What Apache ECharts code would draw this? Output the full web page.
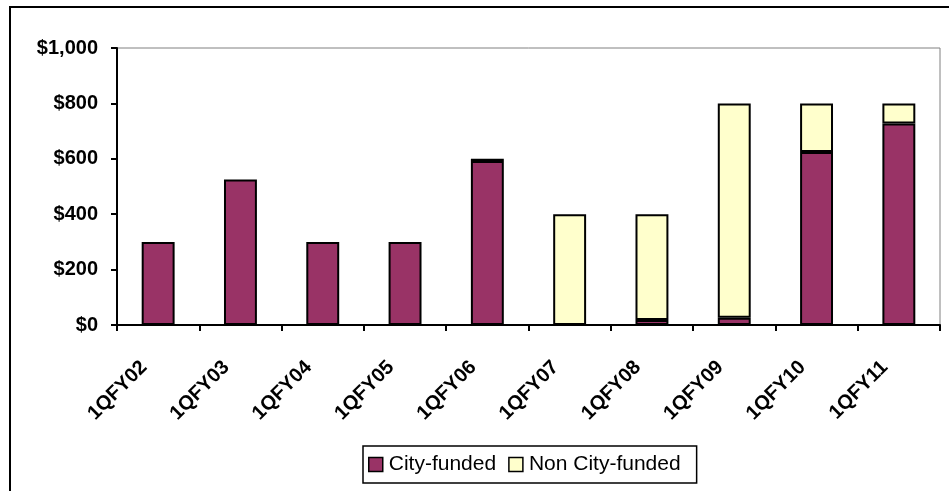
<!DOCTYPE html>
<html>
<head>
<meta charset="utf-8">
<script src="https://cdn.jsdelivr.net/npm/echarts@6/dist/echarts.min.js"></script>
<style>
  html, body { margin: 0; padding: 0; background: #fff; }
  #chart { width: 949px; height: 491px; }
</style>
</head>
<body>
<div id="chart"></div>
<script>
// Quarterly funding, in dollars
const categories = ['1QFY02', '1QFY03', '1QFY04', '1QFY05', '1QFY06', '1QFY07', '1QFY08', '1QFY09', '1QFY10', '1QFY11'];
const cityFunded = [300, 525, 300, 300, 592, 0, 18, 26, 625, 727];
const nonCityFunded = [0, 0, 0, 0, 8, 400, 382, 774, 175, 73];
const yTicks = { min: 0, max: 1000, interval: 200 };

const font = 'Liberation Sans, Arial, sans-serif';
const chart = echarts.init(document.getElementById('chart'), null, { renderer: 'canvas' });

const barStyle = (color) => ({ color: color, borderColor: '#000', borderWidth: 2 });
// empty segments are skipped so they leave no outline
const segments = (values) => values.map((v) => (v === 0 ? '-' : v));

chart.setOption({
  animation: false,
  backgroundColor: '#fff',
  textStyle: { fontFamily: font },
  graphic: [{
    type: 'rect',
    shape: { x: 10, y: 7, width: 1000, height: 600 },
    style: { fill: 'none', stroke: '#000', lineWidth: 2 },
    silent: true,
    z: 100
  }],
  grid: {
    left: 117, top: 48, right: 9, bottom: 166,
    show: true, borderColor: '#808080', borderWidth: 1,
    containLabel: false
  },
  legend: {
    left: 363, top: 446,
    padding: [8, 16, 8, 5],
    borderColor: '#000', borderWidth: 1.5,
    itemWidth: 14, itemHeight: 14, itemGap: 12,
    icon: 'rect',
    textStyle: { fontFamily: font, fontSize: 21, lineHeight: 21, color: '#000', padding: [0, 0, 0, 1] },
    data: [
      { name: 'City-funded', itemStyle: { color: '#993366', borderColor: '#000', borderWidth: 1.5 } },
      { name: 'Non City-funded', itemStyle: { color: '#FFFFCC', borderColor: '#000', borderWidth: 1.5 } }
    ]
  },
  xAxis: {
    type: 'category',
    data: categories,
    boundaryGap: true,
    axisLine: { lineStyle: { color: '#000', width: 2 } },
    axisTick: { show: true, length: 6, inside: false, alignWithLabel: false, lineStyle: { color: '#000', width: 2 } },
    axisLabel: {
      rotate: 45, margin: 25, interval: 0,
      padding: [0, 20, 0, 0],
      fontFamily: font, fontSize: 20, fontWeight: 'bold', color: '#000'
    },
    splitLine: { show: false }
  },
  yAxis: {
    type: 'value',
    min: yTicks.min, max: yTicks.max, interval: yTicks.interval,
    axisLine: { show: true, lineStyle: { color: '#000', width: 2 } },
    axisTick: { show: true, length: 6, lineStyle: { color: '#000', width: 2 } },
    axisLabel: {
      margin: 19,
      fontFamily: font, fontSize: 20, fontWeight: 'bold', color: '#000',
      formatter: (v) => '$' + v.toLocaleString('en-US')
    },
    splitLine: { show: false }
  },
  series: [
    {
      name: 'City-funded', type: 'bar', stack: 'total',
      data: segments(cityFunded), barWidth: '40%',
      itemStyle: barStyle('#993366')
    },
    {
      name: 'Non City-funded', type: 'bar', stack: 'total',
      data: segments(nonCityFunded), barWidth: '40%',
      itemStyle: barStyle('#FFFFCC')
    }
  ]
});
</script>
</body>
</html>
